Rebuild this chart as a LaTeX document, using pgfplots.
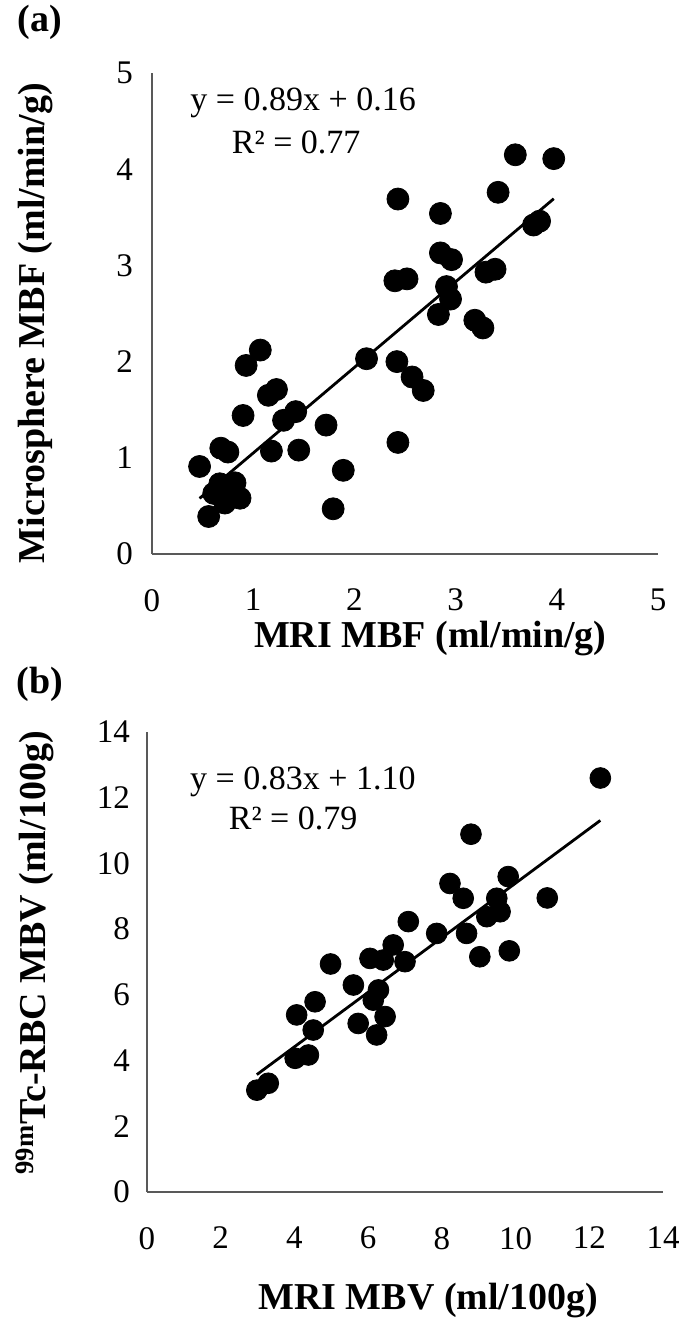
\documentclass[border=0pt]{standalone}
\usepackage{fontspec}
\setmainfont{Liberation Serif}
\usepackage{pgfplots}
\pgfplotsset{compat=1.18}

\pgfplotsset{
  scat/.style={
    scale only axis,
    axis lines*=left,
    axis line style={line width=1pt, black!65},
    major tick length=0pt,
    clip=false,
    /pgf/number format/assume math mode=true,
    tick label style={font=\fontsize{16.5}{16.5}\selectfont},
    label style={font=\fontsize{19}{19}\selectfont\bfseries},
  },
  dots/.style={only marks, mark=*, mark size=#1, black},
  fit/.style={black, line width=1.4pt},
}

\begin{document}
\begin{tikzpicture}
\useasboundingbox (0,0) rectangle (343.5pt,-664pt);

\node[font=\fontsize{19}{19}\selectfont\bfseries] at (20pt,-11pt) {(a)};
\node[font=\fontsize{19}{19}\selectfont\bfseries] at (20pt,-342pt) {(b)};

% (a) MBF
\begin{axis}[scat,
  at={(76pt,-277pt)}, anchor=south west,
  width=253pt, height=240.5pt,
  xmin=0, xmax=5, ymin=0, ymax=5,
  xtick={0,1,2,3,4,5}, ytick={0,1,2,3,4,5},
  xticklabel style={yshift=-14pt},
  yticklabel style={xshift=-6pt},
  xlabel={MRI MBF (ml/min/g)},
  ylabel={Microsphere MBF (ml/min/g)},
  xlabel style={at={(axis description cs:0.55,-0.175)}, anchor=center},
  ylabel style={at={(axis description cs:-0.231,0.48)}, anchor=center},
]
\addplot[dots=5.5pt] coordinates {
 (3.59,4.15) (3.97,4.11) (3.42,3.76) (2.43,3.69) (2.85,3.54)
 (3.77,3.42) (3.83,3.46) (2.85,3.13) (2.96,3.06) (2.40,2.84)
 (2.52,2.86) (3.30,2.93) (3.39,2.96) (2.91,2.78) (2.95,2.65)
 (2.83,2.49) (3.19,2.43) (3.27,2.35) (2.12,2.03) (2.42,2.00)
 (2.57,1.84) (2.68,1.70) (1.07,2.12) (0.93,1.96) (1.23,1.71)
 (1.15,1.65) (0.90,1.44) (1.30,1.39) (1.42,1.48) (1.72,1.34)
 (2.43,1.16) (1.18,1.07) (1.45,1.08) (0.68,1.10) (0.75,1.06)
 (0.47,0.91) (1.89,0.87) (1.79,0.47) (0.56,0.39) (0.67,0.73)
 (0.82,0.74) (0.87,0.58) (0.72,0.53) (0.61,0.63) (0.77,0.65)
};
\addplot[fit] coordinates {(0.47,0.578) (3.97,3.693)};
\node[anchor=west, font=\fontsize{17}{17}\selectfont] at (axis cs:0.31,4.69) {y = 0.89x + 0.16};
\node[anchor=west, font=\fontsize{17}{17}\selectfont] at (axis cs:0.72,4.28) {R² = 0.77};
\end{axis}

% (b) MBV
\begin{axis}[scat,
  at={(73.5pt,-596pt)}, anchor=south west,
  width=258pt, height=230pt,
  xmin=0, xmax=14, ymin=0, ymax=14,
  xtick={0,2,...,14}, ytick={0,2,...,14},
  xticklabel style={yshift=-14pt},
  yticklabel style={xshift=-5pt},
  xlabel={MRI MBV (ml/100g)},
  ylabel={\textsuperscript{99m}Tc-RBC MBV (ml/100g)},
  xlabel style={at={(axis description cs:0.545,-0.235)}, anchor=center},
  ylabel style={at={(axis description cs:-0.217,0.52)}, anchor=center},
]
\addplot[dots=5.2pt] coordinates {
 (2.98,3.10) (3.29,3.31) (4.02,4.07) (4.38,4.17) (4.51,4.93)
 (4.06,5.39) (4.56,5.79) (4.98,6.94) (5.60,6.30) (5.73,5.13)
 (6.14,5.84) (6.28,6.15) (6.46,5.34) (6.23,4.78) (6.05,7.11)
 (6.41,7.06) (6.68,7.52) (7.00,7.01) (7.09,8.23) (7.86,7.87)
 (8.22,9.39) (8.58,8.94) (8.79,10.89) (8.67,7.87) (9.03,7.16)
 (9.22,8.38) (9.58,8.53) (9.49,8.94) (9.80,9.60) (9.83,7.34)
 (10.86,8.95) (12.30,12.60)
};
\addplot[fit] coordinates {(2.98,3.573) (12.30,11.309)};
\node[anchor=west, font=\fontsize{17}{17}\selectfont] at (axis cs:0.98,12.48) {y = 0.83x + 1.10};
\node[anchor=west, font=\fontsize{17}{17}\selectfont] at (axis cs:2.03,11.38) {R² = 0.79};
\end{axis}
\end{tikzpicture}
\end{document}
